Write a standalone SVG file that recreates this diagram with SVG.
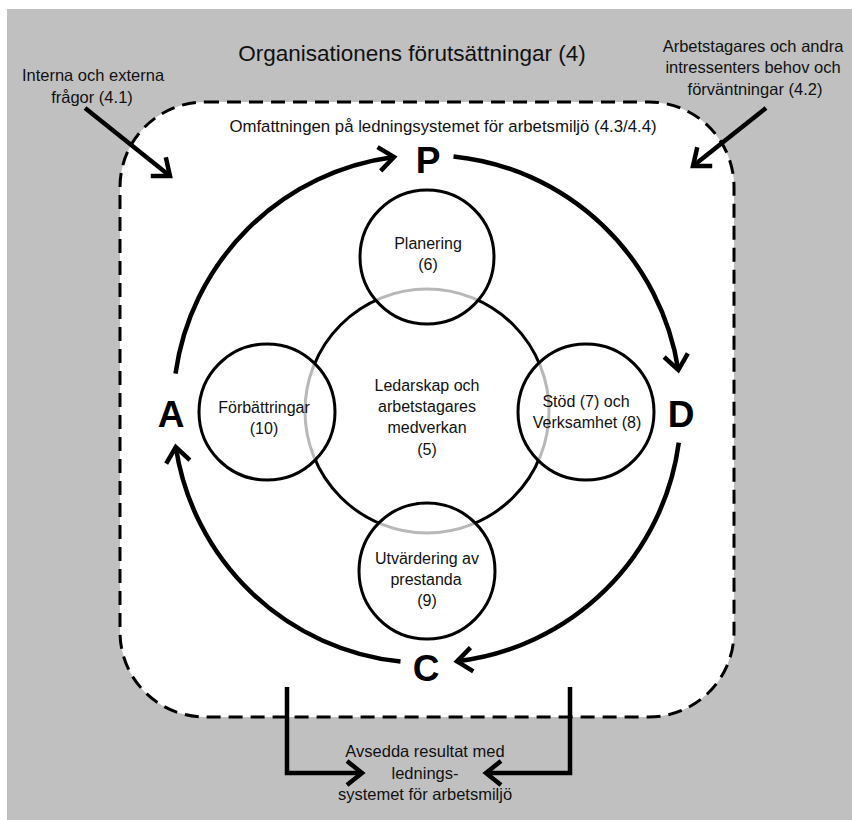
<svg xmlns="http://www.w3.org/2000/svg" width="852" height="820" viewBox="0 0 852 820">
<style>
.t{font-family:"Liberation Sans",Arial,sans-serif;font-size:16.5px;fill:#111;text-anchor:middle}
.ct{font-family:"Liberation Sans",Arial,sans-serif;font-size:16px;fill:#111;text-anchor:middle}
.big{font-family:"Liberation Sans",Arial,sans-serif;font-size:37px;font-weight:bold;fill:#000;text-anchor:middle}
.ln{fill:none;stroke:#000;stroke-width:4.5}
.sat{fill:#fff;fill-opacity:0.72;stroke:#000;stroke-width:3}
</style>
<defs>
<marker id="ah" viewBox="-22 -16 28 32" refX="0" refY="0" markerWidth="28" markerHeight="32" markerUnits="userSpaceOnUse" orient="auto">
<path d="M-15,-12 L0,0 L-15,12" fill="none" stroke="#000" stroke-width="4.5"/>
</marker>
</defs>
<rect x="0" y="0" width="852" height="820" fill="#fff"/>
<rect x="7" y="9" width="845" height="811" fill="#c0c0c0"/>
<g id="scope">
<rect x="120" y="102" width="614" height="615" rx="85" ry="85" fill="#fff" stroke="#000" stroke-width="3" stroke-dasharray="14 8"/>
<text class="t" x="443" y="132" style="font-size:16.8px">Omfattningen på ledningsystemet för arbetsmiljö (4.3/4.4)</text>
</g>
<g id="title"><text class="t" x="412" y="61" style="font-size:22.5px">Organisationens förutsättningar (4)</text></g>
<g id="interna"><text class="t" x="93" y="81">Interna och externa</text><text class="t" x="92" y="103">frågor (4.1)</text></g>
<g id="arbetstagares"><text class="t" x="753" y="52">Arbetstagares och andra</text><text class="t" x="753" y="73">intressenters behov och</text><text class="t" x="755" y="95">förväntningar (4.2)</text></g>
<g id="resultat"><text class="t" x="425" y="757">Avsedda resultat med</text><text class="t" x="425" y="779">lednings-</text><text class="t" x="425" y="800">systemet för arbetsmiljö</text></g>
<g id="connectors">
<path class="ln" d="M85,108 L170,176" marker-end="url(#ah)"/>
<path class="ln" d="M766,108 L693,166" marker-end="url(#ah)"/>
<path class="ln" d="M175.5,373.6 A254,254 0 0 1 394,157" marker-end="url(#ah)"/>
<path class="ln" d="M453.5,156.4 A254,254 0 0 1 678.3,370" marker-end="url(#ah)"/>
<path class="ln" d="M678.8,442.6 A254,254 0 0 1 457,661.3" marker-end="url(#ah)"/>
<path class="ln" d="M400.5,661.6 A254,254 0 0 1 175.8,447" marker-end="url(#ah)"/>
<path class="ln" d="M287,687 V773 H362" marker-end="url(#ah)"/>
<path class="ln" d="M570,687 V773 H486" marker-end="url(#ah)"/>
</g>
<g id="P"><text class="big" x="428" y="173">P</text></g>
<g id="D"><text class="big" x="681" y="427">D</text></g>
<g id="C"><text class="big" x="426" y="681">C</text></g>
<g id="A"><text class="big" x="171" y="427">A</text></g>
<g id="ledarskap">
<circle cx="427" cy="411" r="122" fill="#fff" stroke="#000" stroke-width="3"/>
<text class="ct" x="427" y="391">Ledarskap och</text>
<text class="ct" x="427" y="412">arbetstagares</text>
<text class="ct" x="427" y="433">medverkan</text>
<text class="ct" x="427" y="455">(5)</text>
</g>
<g id="planering">
<circle class="sat" cx="427" cy="257" r="67"/>
<text class="ct" x="428" y="249">Planering</text>
<text class="ct" x="428" y="270">(6)</text>
</g>
<g id="forbattringar">
<circle class="sat" cx="267" cy="412" r="68"/>
<text class="ct" x="264" y="413">Förbättringar</text>
<text class="ct" x="264" y="434">(10)</text>
</g>
<g id="stod">
<circle class="sat" cx="586" cy="412" r="68"/>
<text class="ct" x="586" y="407">Stöd (7) och</text>
<text class="ct" x="587" y="428">Verksamhet (8)</text>
</g>
<g id="utvardering">
<circle class="sat" cx="427" cy="571" r="68"/>
<text class="ct" x="427" y="564">Utvärdering av</text>
<text class="ct" x="426" y="585">prestanda</text>
<text class="ct" x="427" y="606">(9)</text>
</g>
</svg>
